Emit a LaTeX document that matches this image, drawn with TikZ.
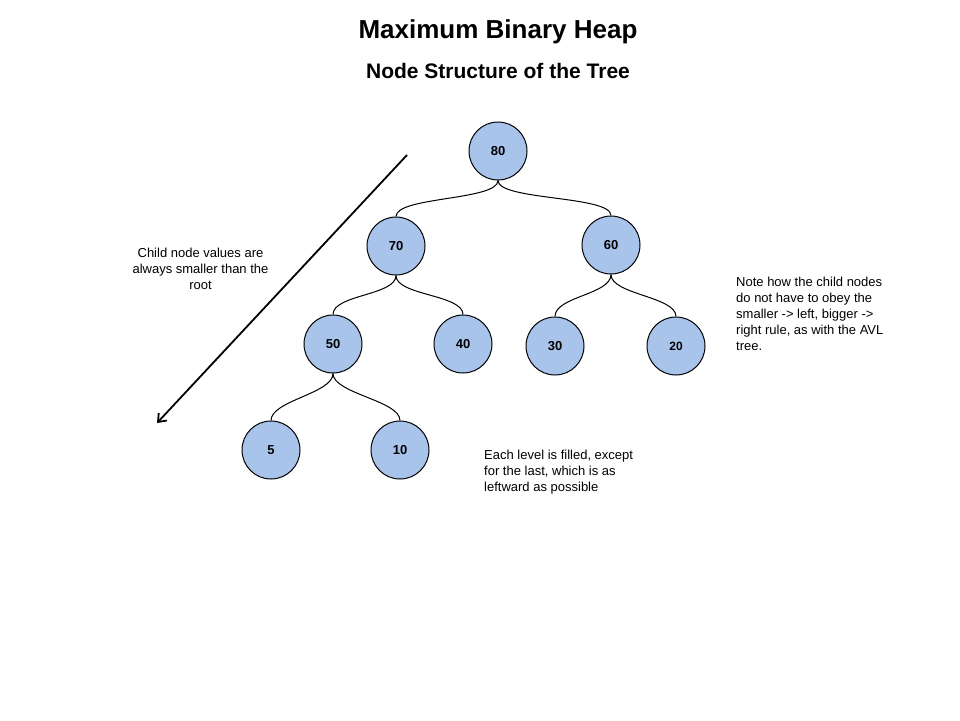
\documentclass[tikz,border=0pt]{standalone}
\usepackage{fontspec}
\setmainfont{Liberation Sans}
\usetikzlibrary{arrows.meta}
\definecolor{heapblue}{HTML}{A9C4EB}
\tikzset{
  heapnode/.style={circle, draw=black, line width=1pt, fill=heapblue, minimum size=58pt, inner sep=0pt,
    font=\fontsize{13}{15}\selectfont\bfseries},
  link/.style={draw=black, line width=1pt},
  note/.style={inner sep=0pt, font=\fontsize{13}{16}\selectfont},
}
\begin{document}
\begin{tikzpicture}[x=1pt,y=-1pt]
\useasboundingbox (0,0) rectangle (960,720);
\fill[white] (0,0) rectangle (960,720);

\node[inner sep=0pt, font=\fontsize{26}{30}\selectfont\bfseries] (title) at (498,32) {Maximum Binary Heap};
\node[inner sep=0pt, font=\fontsize{21}{25}\selectfont\bfseries] (subtitle) at (498,71) {Node Structure of the Tree};

\node[heapnode] (n80) at (498,151) {80};
\node[heapnode] (n70) at (396,246) {70};
\node[heapnode] (n60) at (611,245) {60};
\node[heapnode] (n50) at (333,344) {50};
\node[heapnode] (n40) at (463,344) {40};
\node[heapnode] (n30) at (555,346) {30};
\node[heapnode, font=\fontsize{12}{14}\selectfont\bfseries] (n20) at (676,346) {20};
\node[heapnode] (n5) at (271,450) {5};
\node[heapnode] (n10) at (400,450) {10};

\foreach \p/\c in {n80/n70, n80/n60, n70/n50, n70/n40, n60/n30, n60/n20, n50/n5, n50/n10}{
  \draw[link] (\p.south) .. controls +(0,20) and +(0,-20) .. (\c.north);
}

\coordinate (arrowstart) at (407,155);
\coordinate (arrowend) at (157,423);
\draw[line width=1.8pt, -{Straight Barb[length=7pt,width=11pt]}] (arrowstart) -- (arrowend);

\node[note, align=center] (childnote) at (200.5,269) {Child node values are\\always smaller than the\\root};
\node[note, align=left, anchor=west] (avlnote) at (736,314) {Note how the child nodes\\do not have to obey the\\smaller -> left, bigger ->\\right rule, as with the AVL\\tree.};
\node[note, align=left, anchor=west] (levelnote) at (484,472) {Each level is filled, except\\for the last, which is as\\leftward as possible};
\end{tikzpicture}
\end{document}
